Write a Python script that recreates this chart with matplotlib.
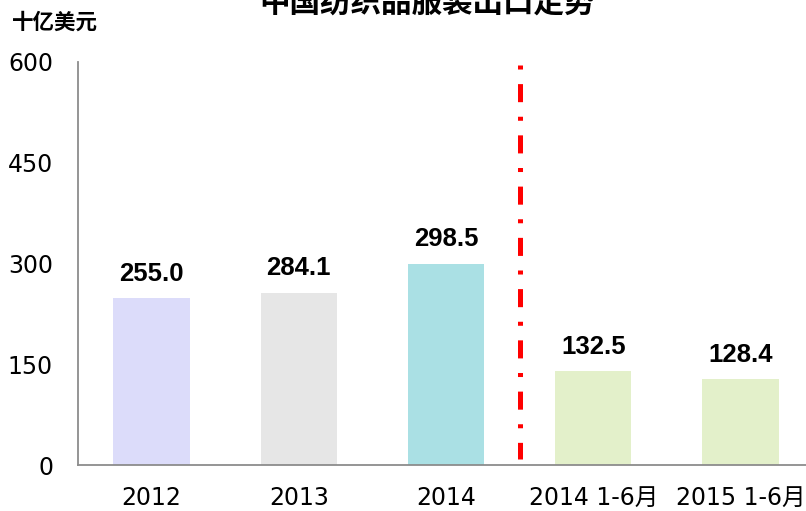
import matplotlib
matplotlib.use("Agg")
import matplotlib.pyplot as plt

plt.rcParams['font.family'] = ['DejaVu Sans', 'Noto Sans CJK SC']
plt.rcParams['lines.scale_dashes'] = False

categories = ['2012', '2013', '2014', '2014 1-6月', '2015 1-6月']
bar_values = [248.5, 256.5, 299.5, 140.0, 128.0]
label_texts = ['255.0', '284.1', '298.5', '132.5', '128.4']
bar_colors = ['#DCDCFA', '#E6E6E6', '#AAE0E4', '#E3F0CA', '#E3F0CA']
yticks = [0, 150, 300, 450, 600]
title = '中国纺织品服装出口走势'
unit_label = '十亿美元'

fig = plt.figure(figsize=(8.06, 5.11), dpi=100)
ax = fig.add_axes([78/806, 46/511, (814-78)/806, (465-62)/511])

x = list(range(len(categories)))
ax.bar(x, bar_values, width=0.52, color=bar_colors, zorder=2)

for xi, v, t in zip(x, bar_values, label_texts):
    ax.annotate(t, (xi, v), xytext=(0, 12.5), textcoords='offset points',
                ha='center', va='baseline', fontsize=18.5, fontweight='bold',
                color='black', family=['Liberation Sans'])

ax.plot([2.5, 2.5], [595, 9], color='#FF0000', lw=3.6,
        linestyle=(0, (2.9, 10.5, 13, 10.5)), solid_capstyle='butt',
        dash_capstyle='butt', zorder=3)

ax.set_xlim(-0.5, 4.5)
ax.set_ylim(0, 600)
ax.set_yticks(yticks)
ax.set_yticklabels([str(v) for v in yticks])
ax.set_xticks(x)
ax.set_xticklabels(categories)
ax.tick_params(axis='y', length=0, pad=18, labelsize=17)
ax.tick_params(axis='x', length=0, pad=15, labelsize=17)

for s in ['top', 'right']:
    ax.spines[s].set_visible(False)
for s in ['left', 'bottom']:
    ax.spines[s].set_color('#8C8C8C')
    ax.spines[s].set_linewidth(1.3)

fig.text(427/806, 1.0 - 3/511, title, ha='center', va='center', fontsize=22,
         family=['Noto Sans CJK SC'], fontweight='bold')
fig.text(12/806, 1 - 22/511, unit_label, ha='left', va='center', fontsize=15.5,
         family=['Noto Sans CJK SC'], fontweight='bold')

fig.savefig('out.png', dpi=100)
